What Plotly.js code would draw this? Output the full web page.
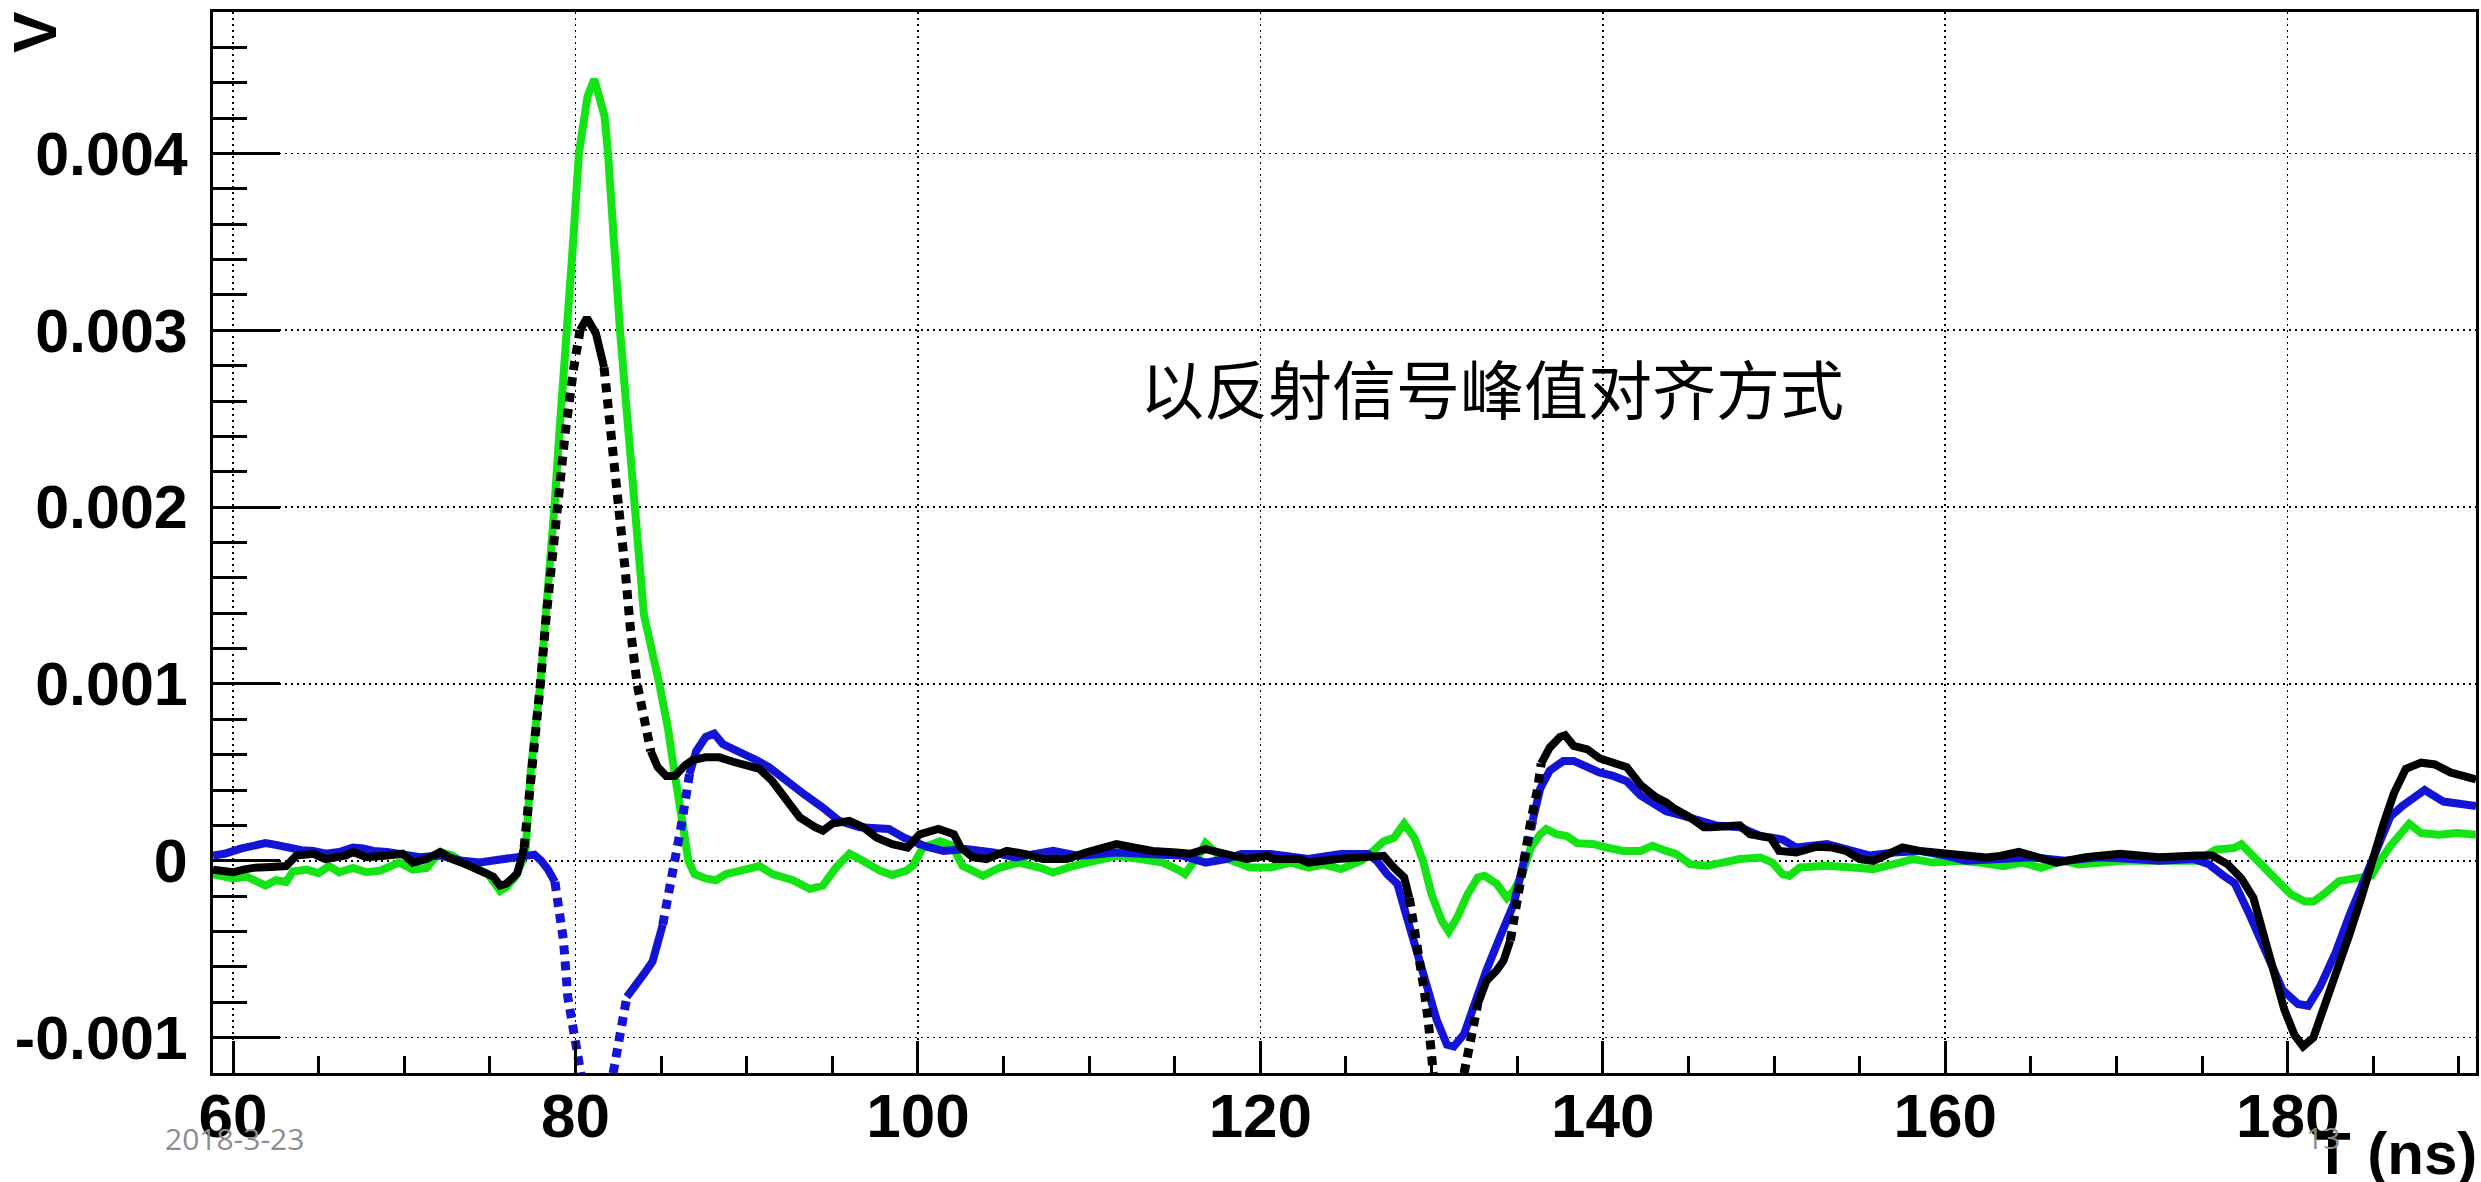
<!DOCTYPE html>
<html>
<head>
<meta charset="utf-8">
<script src="https://cdn.plot.ly/plotly-3.0.1.min.js"></script>
<style>html,body{margin:0;padding:0;background:#fff;}#chart{width:2481px;height:1182px;}</style>
</head>
<body>
<div id="chart"></div>
<script>
// ---- data (time in ns, signal in V) ----
const tGreen = [58.83,59.5,60,60.8,61.9,62.5,63.1,63.5,64.3,65,65.6,66.2,67,67.8,68.6,69.7,70.5,71.3,72.1,72.8,73.6,74.4,74.9,75.6,75.95,76.5,76.9,77.1,77.4,77.95,78.3,78.8,79.06,79.55,79.9,80.2,80.45,80.7,81.1,81.7,81.9,82.2,82.6,83.1,83.4,84,84.9,85.4,85.8,86.3,86.6,86.95,87.6,88.2,88.8,89.6,90.75,91.5,92.7,93.7,94.45,95.2,96,96.6,97.8,98.5,99.3,99.7,100.3,101.3,102,102.6,103.8,104.8,105.9,107.1,107.9,109.1,110.2,111.6,113,114.3,115.3,115.6,116.5,116.8,117.6,118.8,119.4,120.6,121.8,122.8,123.7,124.7,125.9,126.6,127.2,127.8,128.4,129,129.5,130,130.6,131,131.5,132.1,132.7,133.1,133.8,134.4,134.8,135.3,135.8,136.35,136.7,137.3,137.9,138.5,139.5,140.2,141.2,142.2,142.9,143.7,144.3,145.1,146.1,147,148,149.2,149.9,150.5,150.9,151.5,153.1,154.6,155.8,157,158.1,159.3,160.85,162,163.4,164.5,165.6,166.9,167.8,170.4,172.5,174.7,175.8,176.9,177.3,178.2,179.1,180.2,181,181.5,182.1,183,184.3,184.9,185.4,186,187.1,187.8,188.8,189.9,191];
const vGreen = [-0.000075,-0.00009,-0.0001,-0.00009,-0.00014,-0.00011,-0.00012,-0.00006,-0.00005,-0.00007,-0.00003,-0.000065,-0.00004,-0.000065,-0.000056,-0.00001,-0.00005,-0.00004,0.00005,0.00003,-0.00002,-0.00005,-0.000075,-0.00017,-0.00015,-0.00009,0,0.000075,0.00052,0.001,0.00139,0.00204,0.00242,0.003,0.00355,0.004,0.00415,0.00432,0.00442,0.00421,0.004,0.00355,0.003,0.00242,0.00204,0.00139,0.001,0.00075,0.00049,0.00021,0,-0.000075,-0.0001,-0.00011,-0.000075,-0.000057,-0.00003,-0.000075,-0.00011,-0.00016,-0.00014,-0.00004,0.00004,0.00001,-0.000057,-0.00008,-0.000057,-0.000028,0.000075,0.00011,0.000085,-0.000028,-0.000085,-0.000038,-0.00001,-0.000038,-0.000066,-0.000028,0,0.000028,0.00001,-0.00001,-0.000056,-0.000075,0.000047,0.0001,0.000028,-0.000019,-0.000038,-0.000038,-0.00001,-0.000038,-0.00002,-0.000047,0,0.000056,0.00011,0.00013,0.00021,0.00013,0,-0.00019,-0.00034,-0.0004,-0.00032,-0.00019,-0.000094,-0.000085,-0.00013,-0.00021,-0.00017,-0.000075,0.000075,0.00015,0.00018,0.00015,0.00014,0.0001,0.000094,0.000075,0.000056,0.000056,0.000085,0.000056,0.000038,-0.000019,-0.000028,-0.00001,0.00001,0.000019,-0.00001,-0.000075,-0.000085,-0.000038,-0.000028,-0.000038,-0.000047,-0.000019,0.00001,-0.00001,0,-0.00001,-0.00003,-0.00001,-0.00004,0,-0.00002,0,0,0,0.000063,0.000073,0.000094,0,-0.000084,-0.00019,-0.00023,-0.00023,-0.00019,-0.000115,-0.000094,-0.000084,0,0.000084,0.00021,0.000157,0.000147,0.000157,0.000147];

const tBlue = [58.83,59.5,60.5,61.2,61.9,62.5,63.1,64,64.7,65.4,66.2,67,67.6,68.2,69,69.7,70.9,72.1,73.4,74.4,75.2,75.95,76.7,77.6,78,78.4,78.8,79.1,79.3,79.55,79.9,80.3,80.7,81.2,81.7,82.2,82.6,83,83.6,84,84.5,85.1,85.7,86.2,86.66,87.05,87.6,88.1,88.6,89.6,90.55,91.3,92.3,93.3,94.45,95.4,96.6,97.6,98.3,99.2,100,100.5,101.5,102.8,104.4,105.7,107.9,109.4,111.6,113.7,115.5,116.8,118,118.9,120.6,122.8,124.7,126.3,126.8,127.4,128,128.5,129.2,129.75,130.3,130.9,131.3,131.9,132.5,133.2,134,134.8,135.4,135.9,136.35,136.9,137.7,138.3,139.1,139.8,140.6,141.4,142.2,142.9,143.7,144.5,145.5,146.6,148,149.2,150.5,151.3,153.1,154.6,155.6,157,158.5,160.1,161.2,163.2,165,167,169,171,172.5,174.5,175.4,176.2,176.9,177.8,178.7,179.7,180.6,181.2,181.9,182.8,183.6,184.5,185.4,186,186.7,188,189.1,189.9,191];
const vBlue = [0.00003,0.00004,0.00007,0.00009,0.0001,0.00009,0.000075,0.00006,0.000056,0.00004,0.00005,0.000075,0.00007,0.000056,0.00005,0.00004,0.00002,0.00003,0,-0.00001,0,0.00002,0.00003,0.000035,0,-0.00005,-0.00012,-0.0003,-0.00045,-0.00077,-0.001,-0.0012,-0.00142,-0.00155,-0.0014,-0.0012,-0.001,-0.00077,-0.00068,-0.00064,-0.00057,-0.00036,-0.000075,0.00021,0.00049,0.00062,0.0007,0.00072,0.00066,0.00062,0.00057,0.00053,0.00045,0.00038,0.0003,0.000226,0.00019,0.00019,0.00018,0.00013,0.0001,0.00008,0.000056,0.000066,0.000047,0.000019,0.000056,0.000028,0.000047,0.000038,0.000028,-0.00001,0.00001,0.000038,0.000038,0.00001,0.000038,0.000038,0,-0.000075,-0.00013,-0.0003,-0.00053,-0.00072,-0.0009,-0.00104,-0.00105,-0.00098,-0.00081,-0.00062,-0.00043,-0.000245,0,0.000226,0.00041,0.00051,0.000565,0.000565,0.00053,0.0005,0.00048,0.00045,0.00037,0.00033,0.00028,0.00026,0.000226,0.0002,0.00019,0.00014,0.00012,0.000075,0.000094,0.000056,0.00003,0.000047,0.000056,0.000028,0,0.00001,0.00002,0,0.00002,0.00001,0,0.00001,-0.00002,-0.00008,-0.000126,-0.00031,-0.00052,-0.00073,-0.00081,-0.00082,-0.00071,-0.00052,-0.00031,-0.0001,0.0001,0.00025,0.00031,0.0004,0.000335,0.000325,0.00031];

const tBlack = [58.83,59.5,60,60.6,61.2,62.2,63.1,63.7,64.7,65.4,66.6,67,67.8,69,69.9,70.5,71.3,72.1,72.8,73.6,74.2,74.8,75.2,75.6,75.95,76.3,76.6,76.8,77,77.3,77.5,77.95,78.3,78.9,79.4,79.9,80.27,80.67,81.2,81.67,82.1,82.45,82.9,83.2,83.6,84,84.4,84.8,85.3,85.8,86.4,86.85,87.6,88.4,89.2,90,90.75,91.5,92.3,93.1,94,94.45,95,96,96.8,97.6,98.5,99.4,100.1,101.2,102.1,102.5,103.2,104,105.2,106.3,107.3,108.7,109.8,111.6,112.6,113.7,115.1,115.9,116.8,118,119.2,120.4,120.8,122.3,122.8,124.5,126.3,127.2,127.8,128.4,128.7,129.1,129.55,129.8,130,130.1,130.5,131,131.5,131.9,132.3,132.7,133.2,133.8,134.2,134.6,135.1,135.4,135.8,136.2,136.4,136.9,137.5,137.8,138.3,139.1,139.8,140.8,141.4,142.2,143.1,143.7,144.1,145.1,145.9,146.3,148,148.6,149.8,150.3,151.3,152.5,153.4,154.2,155,155.8,156.8,157.5,158.5,159.7,160.85,162.4,163.2,164.3,166.5,168.2,170.2,172.5,174.7,175.6,176.5,177.3,178,178.6,179.2,179.8,180.4,180.9,181.5,182.1,182.9,183.6,184.3,184.9,185.6,186.2,186.9,187.8,188.6,189.5,190.4,191];
const vBlack = [-0.00005,-0.00006,-0.000065,-0.00005,-0.00004,-0.000035,-0.00003,0.00003,0.00004,0.00001,0.00003,0.00005,0.00002,0.00003,0.00004,-0.00001,0.00001,0.00005,0.00001,-0.00002,-0.00005,-0.000075,-0.00009,-0.00014,-0.00013,-0.0001,-0.00007,0,0.000075,0.00034,0.00055,0.001,0.00139,0.002,0.00242,0.00279,0.003,0.00307,0.00298,0.00279,0.00242,0.00208,0.00165,0.00132,0.001,0.00081,0.00062,0.00053,0.00048,0.00048,0.00054,0.00057,0.000585,0.000585,0.00056,0.00054,0.00052,0.00045,0.00034,0.000245,0.00019,0.00017,0.00021,0.000226,0.00019,0.00013,0.000094,0.000075,0.00015,0.00018,0.00015,0.000075,0.00002,0.00001,0.000056,0.000038,0.00001,0.00001,0.000047,0.000094,0.000075,0.000056,0.000047,0.00004,0.000066,0.000038,0.00001,0.000028,0.00001,0.00001,-0.00001,0.00001,0.000028,0.000028,-0.000038,-0.000094,-0.00021,-0.00043,-0.00072,-0.0009,-0.00109,-0.0012,-0.00132,-0.00138,-0.00132,-0.0012,-0.001,-0.00081,-0.00068,-0.00062,-0.000565,-0.00045,-0.00015,0,0.000226,0.00041,0.00055,0.00064,0.0007,0.00071,0.00065,0.00063,0.00058,0.00055,0.00053,0.00043,0.00036,0.00033,0.0003,0.000245,0.00019,0.00019,0.0002,0.00015,0.00013,0.000056,0.000047,0.00008,0.000075,0.000056,0.00001,0,0.000047,0.000075,0.000056,0.000047,0.000028,0.000019,0.000028,0.00005,-0.00001,0.00002,0.00004,0.00002,0.00003,0.00003,-0.00002,-0.0001,-0.00021,-0.00042,-0.00063,-0.00084,-0.000985,-0.00105,-0.001,-0.00084,-0.00063,-0.00042,-0.00021,0,0.00021,0.00038,0.00052,0.000555,0.000545,0.0005,0.00048,0.00046];

const xTickVals = [60, 80, 100, 120, 140, 160, 180];
const xTickText = ['60', '80', '100', '120', '140', '160', '180'];
const yTickVals = [-0.001, 0, 0.001, 0.002, 0.003, 0.004];
const yTickText = ['-0.001', '0', '0.001', '0.002', '0.003', '0.004'];

const xTitle = 'T (ns)';
const yTitle = 'V';
const noteText = '以反射信号峰值对齐方式';
const footDate = '2018-3-23';
const footPage = '13';

// ---- layout constants ----
const W = 2481, H = 1182;
const M = {l: 213, r: 5, t: 12, b: 109};
const PW = W - M.l - M.r, PH = H - M.t - M.b;
const XR = [58.83, 191], YR = [-0.0012, 0.0048];
const pxX = PW / (XR[1] - XR[0]), pxY = PH / (YR[1] - YR[0]);
const toPaperX = px => (px - M.l) / PW;
const toPaperY = py => (H - M.b - py) / PH;

const GREEN = '#14e414', BLUE = '#1414d6', BLACK = '#000000';
const LW = 8;

// Blue and black are drawn like the original marker-per-sample graph:
// on very steep stretches the samples separate and the curve looks dotted.
function runs(t, v, color, dottedWhenSteep) {
  const out = [];
  let cur = null;
  for (let i = 0; i < t.length - 1; i++) {
    const slope = Math.abs((v[i + 1] - v[i]) * pxY) / Math.abs((t[i + 1] - t[i]) * pxX);
    const steep = dottedWhenSteep && slope > 4.3;
    if (!cur || cur.steep !== steep) {
      cur = {steep: steep, x: [t[i]], y: [v[i]]};
      out.push(cur);
    }
    cur.x.push(t[i + 1]);
    cur.y.push(v[i + 1]);
  }
  return out.map(r => ({
    type: 'scatter', mode: 'lines', x: r.x, y: r.y, hoverinfo: 'skip',
    line: {color: color, width: r.steep ? 9 : LW, dash: r.steep ? '9px,7px' : 'solid'}
  }));
}

const traces = [].concat(
  runs(tGreen, vGreen, GREEN, false),
  runs(tBlue, vBlue, BLUE, true),
  runs(tBlack, vBlack, BLACK, true)
);

const HELV = 'Liberation Sans, Arial, Helvetica, sans-serif';

const layout = {
  width: W, height: H,
  margin: {l: M.l, r: M.r, t: M.t, b: M.b, pad: 0},
  paper_bgcolor: '#ffffff', plot_bgcolor: '#ffffff',
  showlegend: false,
  xaxis: {
    range: XR, tickmode: 'array', tickvals: xTickVals, ticktext: xTickText,
    ticks: 'inside', ticklen: 32, tickwidth: 3, tickcolor: '#000',
    showline: true, linecolor: '#000', linewidth: 3, mirror: true,
    showgrid: true, gridcolor: '#000', gridwidth: 1.6, griddash: '2px,4px',
    zeroline: false, ticklabelstandoff: -13,
    tickfont: {family: HELV, size: 62, color: '#000', weight: 700},
    minor: {tickmode: 'linear', tick0: 0, dtick: 5, ticks: 'inside', ticklen: 17, tickwidth: 3, tickcolor: '#000', showgrid: false}
  },
  yaxis: {
    range: YR, tickmode: 'array', tickvals: yTickVals, ticktext: yTickText,
    ticks: 'inside', ticklen: 67, tickwidth: 3, tickcolor: '#000',
    showline: true, linecolor: '#000', linewidth: 3, mirror: true,
    showgrid: true, gridcolor: '#000', gridwidth: 1.6, griddash: '2px,4px',
    zeroline: false, ticklabelstandoff: 10,
    tickfont: {family: HELV, size: 61, color: '#000', weight: 700},
    minor: {tickmode: 'linear', tick0: 0, dtick: 0.0002, ticks: 'inside', ticklen: 34, tickwidth: 3, tickcolor: '#000', showgrid: false}
  },
  annotations: [
    {text: yTitle, xref: 'paper', yref: 'paper', x: toPaperX(35), y: toPaperY(33), textangle: -90,
     showarrow: false, xanchor: 'center', yanchor: 'middle',
     font: {family: HELV, size: 62, color: '#000', weight: 700}},
    {text: xTitle, xref: 'paper', yref: 'paper', x: toPaperX(2479), y: toPaperY(1153),
     showarrow: false, xanchor: 'right', yanchor: 'middle',
     font: {family: HELV, size: 60, color: '#000', weight: 700}},
    {text: noteText, xref: 'paper', yref: 'paper', x: toPaperX(1492), y: toPaperY(386),
     showarrow: false, xanchor: 'center', yanchor: 'middle',
     font: {family: 'Noto Sans CJK SC', size: 64, color: '#000'}},
    {text: footDate, xref: 'paper', yref: 'paper', x: toPaperX(234), y: toPaperY(1138),
     showarrow: false, xanchor: 'center', yanchor: 'middle',
     font: {family: 'Open Sans', size: 30, color: '#8c8c8c'}},
    {text: footPage, xref: 'paper', yref: 'paper', x: toPaperX(2323), y: toPaperY(1137),
     showarrow: false, xanchor: 'center', yanchor: 'middle',
     font: {family: 'Open Sans', size: 30, color: '#8c8c8c'}}
  ]
};

Plotly.newPlot('chart', traces, layout, {displayModeBar: false, staticPlot: true});
</script>
</body>
</html>
